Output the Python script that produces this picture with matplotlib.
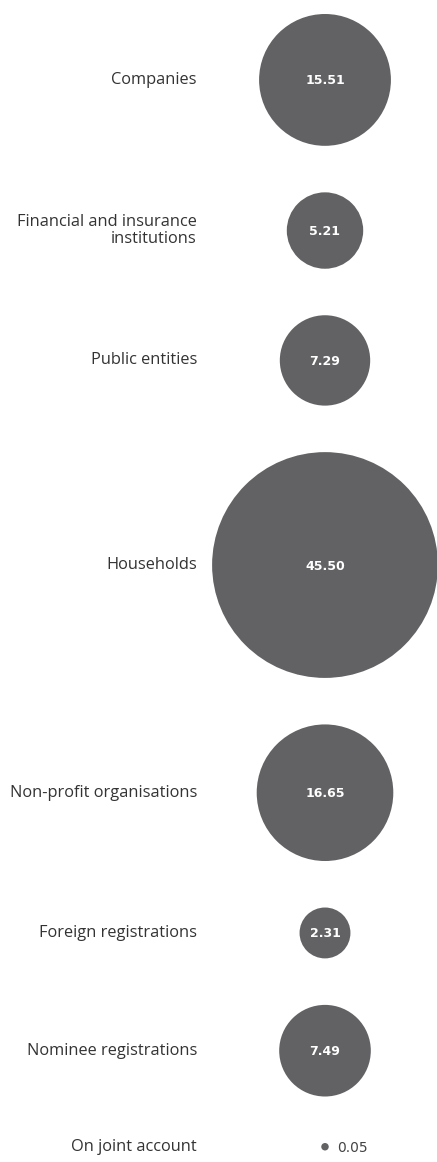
import numpy as np
import matplotlib
matplotlib.use("Agg")
import matplotlib.pyplot as plt
from matplotlib.patches import Circle

# shares by owner group (%)
labels = ["Companies", "Financial and insurance\ninstitutions", "Public entities",
          "Households", "Non-profit organisations", "Foreign registrations",
          "Nominee registrations", "On joint account"]
values = [15.51, 5.21, 7.29, 45.50, 16.65, 2.31, 7.49, 0.05]

W, H = 437, 1162
bubble_col = "#626264"
text_col = "#333333"

fig = plt.figure(figsize=(W / 100, H / 100), dpi=100)
ax = fig.add_axes([0, 0, 1, 1])
ax.set_xlim(0, W)
ax.set_ylim(H, 0)
ax.axis("off")

# bubble area proportional to value, stacked top-down with a fixed gap
k = 112.9 / np.sqrt(max(values))
radii = k * np.sqrt(values)
gap = 46.5
cx = 325
top = 14
for lab, v, r in zip(labels, values, radii):
    cy = top + r
    ax.add_patch(Circle((cx, cy), r, color=bubble_col, lw=0))
    ax.text(197, cy, lab, ha="right", va="center", ma="right",
            fontsize=11.8, color=text_col, family="Open Sans", linespacing=1.05)
    if r > 10:
        ax.text(cx, cy + 1, f"{v:.2f}", ha="center", va="center", fontsize=9,
                color="white", fontweight="bold", family="DejaVu Sans")
    else:
        ax.text(cx + r + 8, cy + 1, f"{v:.2f}", ha="left", va="center",
                fontsize=10, color="#444444", family="DejaVu Sans")
    top = cy + r + gap

fig.savefig("out.png", dpi=100)
